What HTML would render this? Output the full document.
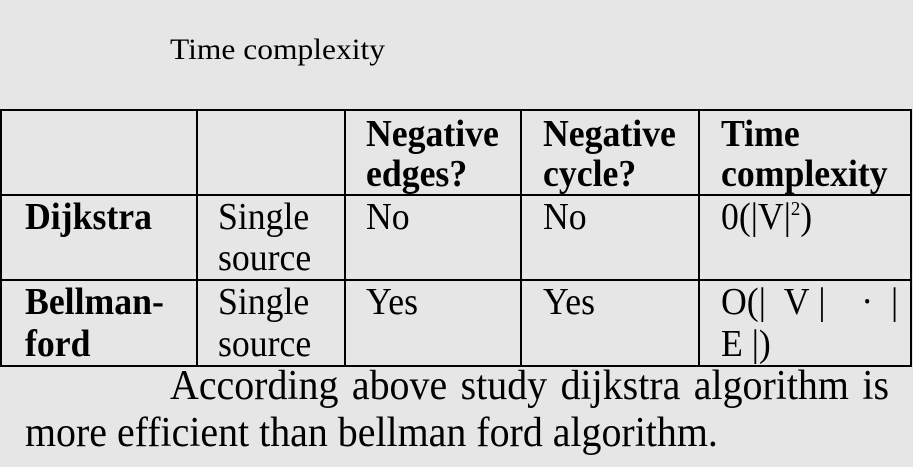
<!DOCTYPE html>
<html><head><meta charset="utf-8"><style>
body{margin:0;width:913px;height:467px;background:#e6e6e6;position:relative;overflow:hidden;font-family:"Liberation Serif",serif;color:#000}
.t{position:absolute;white-space:nowrap;line-height:1;transform-origin:0 0}
.hl{position:absolute;background:#000;height:2px}
.vl{position:absolute;background:#000;width:2px}
.b{font-weight:bold}
.c{font-size:38px;transform:scaleX(0.94)}
</style></head><body>
<div class="t" style="left:170px;top:35px;font-size:30px;transform:scaleX(1.05)">Time complexity</div>
<div>
<div class="hl" style="left:0;top:109px;width:912px"></div>
<div class="hl" style="left:0;top:194px;width:912px"></div>
<div class="hl" style="left:0;top:279px;width:912px"></div>
<div class="hl" style="left:0;top:365px;width:912px"></div>
<div class="vl" style="left:0;top:109px;height:258px"></div>
<div class="vl" style="left:196px;top:109px;height:258px"></div>
<div class="vl" style="left:344px;top:109px;height:258px"></div>
<div class="vl" style="left:520px;top:109px;height:258px"></div>
<div class="vl" style="left:698px;top:109px;height:258px"></div>
<div class="vl" style="left:910px;top:109px;height:258px"></div>
<div class="t b c" style="left:366px;top:114px;line-height:40px">Negative<br>edges?</div>
<div class="t b c" style="left:543px;top:114px;line-height:40px">Negative<br>cycle?</div>
<div class="t b c" style="left:721px;top:114px;line-height:40px">Time<br>complexity</div>
<div class="t b c" style="left:25px;top:197px;line-height:40px">Dijkstra</div>
<div class="t c" style="left:218px;top:197px;line-height:41px">Single<br>source</div>
<div class="t c" style="left:366px;top:197px;line-height:40px">No</div>
<div class="t c" style="left:543px;top:197px;line-height:40px">No</div>
<div class="t c" style="left:721px;top:197px;line-height:40px;height:40px">0(|V|<span style="font-size:20px;position:relative;top:-14px;line-height:0">2</span>)</div>
<div class="t b c" style="left:25px;top:281px;line-height:42px">Bellman-<br>ford</div>
<div class="t c" style="left:218px;top:281px;line-height:42px">Single<br>source</div>
<div class="t c" style="left:366px;top:281px;line-height:42px">Yes</div>
<div class="t c" style="left:543px;top:281px;line-height:42px">Yes</div>
<div class="t c" style="left:721px;top:281px;line-height:42px">O(|&nbsp;&nbsp;V&nbsp;|&nbsp;&nbsp;&nbsp;&nbsp;·&nbsp;&nbsp;|<br>E&nbsp;|)</div>
</div>
<div class="t" style="left:170px;top:365px;font-size:42px;transform:scaleX(0.95);word-spacing:3.7px">According above study dijkstra algorithm is</div>
<div class="t" style="left:25px;top:412px;font-size:42px;transform:scaleX(0.95)">more efficient than bellman ford algorithm.</div>
</body></html>
